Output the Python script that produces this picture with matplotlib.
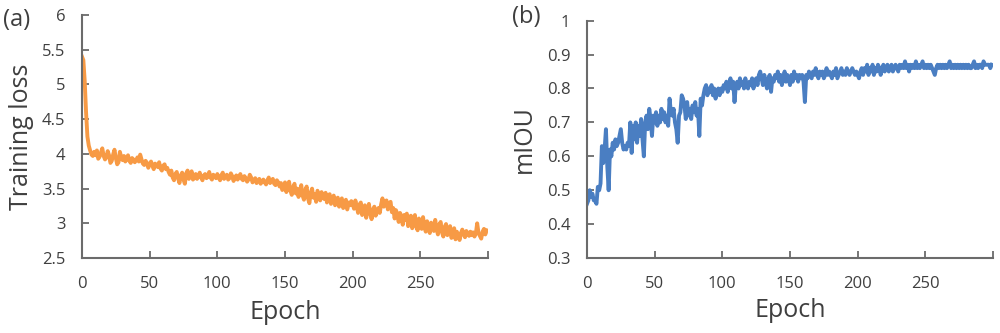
import matplotlib
matplotlib.use("Agg")
import matplotlib.pyplot as plt

plt.rcParams['font.family'] = ['Open Sans', 'DejaVu Sans']

# ---------------- data ----------------
training_loss = [
    5.40, 5.35, 5.05, 4.60, 4.25, 4.12, 4.05, 3.99, 3.97, 4.03, 3.98, 4.05, 3.93, 3.96, 4.02, 4.08, 3.97, 3.92, 3.95, 4.04,
    3.98, 3.87, 3.90, 3.99, 4.06, 3.94, 3.85, 3.88, 4.03, 3.95, 3.91, 3.97, 3.89, 3.93, 3.98, 3.90, 3.87, 3.94, 3.92, 3.88,
    3.91, 3.95, 3.89, 3.99, 3.92, 3.86, 3.84, 3.90, 3.87, 3.80, 3.85, 3.89, 3.83, 3.78, 3.86, 3.84, 3.81, 3.88, 3.79, 3.76,
    3.83, 3.85, 3.78, 3.80, 3.74, 3.70, 3.76, 3.66, 3.62, 3.71, 3.74, 3.65, 3.58, 3.69, 3.73, 3.63, 3.57, 3.72, 3.76, 3.64,
    3.68, 3.75, 3.63, 3.66, 3.71, 3.64, 3.68, 3.73, 3.66, 3.62, 3.69, 3.71, 3.65, 3.67, 3.74, 3.66, 3.63, 3.70, 3.68, 3.65,
    3.71, 3.66, 3.62, 3.69, 3.73, 3.64, 3.67, 3.70, 3.63, 3.65, 3.72, 3.68, 3.61, 3.66, 3.69, 3.63, 3.67, 3.71, 3.64, 3.62,
    3.68, 3.65, 3.60, 3.63, 3.70, 3.66, 3.59, 3.62, 3.65, 3.58, 3.61, 3.64, 3.57, 3.60, 3.63, 3.59, 3.56, 3.62, 3.66, 3.58,
    3.61, 3.64, 3.57, 3.55, 3.62, 3.59, 3.53, 3.58, 3.48, 3.52, 3.59, 3.45, 3.54, 3.60, 3.47, 3.41, 3.52, 3.57, 3.43, 3.50,
    3.38, 3.46, 3.55, 3.40, 3.34, 3.48, 3.53, 3.36, 3.29, 3.44, 3.50, 3.37, 3.42, 3.31, 3.47, 3.40, 3.33, 3.45, 3.39, 3.35,
    3.44, 3.30, 3.38, 3.42, 3.28, 3.35, 3.40, 3.26, 3.33, 3.37, 3.24, 3.31, 3.36, 3.22, 3.29, 3.34, 3.20, 3.30, 3.26, 3.32,
    3.28, 3.21, 3.33, 3.25, 3.15, 3.27, 3.30, 3.12, 3.22, 3.26, 3.08, 3.18, 3.28, 3.14, 3.06, 3.20, 3.24, 3.11, 3.17, 3.22,
    3.15, 3.27, 3.36, 3.24, 3.30, 3.33, 3.20, 3.28, 3.31, 3.16, 3.22, 3.07, 3.19, 3.13, 3.02, 3.15, 3.10, 2.98, 3.12, 3.05,
    3.14, 2.96, 3.08, 3.11, 2.93, 3.04, 3.12, 2.95, 2.90, 3.07, 3.00, 2.92, 3.09, 2.96, 2.88, 3.03, 2.94, 2.86, 3.01, 2.97,
    2.89, 3.05, 2.92, 2.84, 2.98, 3.02, 2.87, 2.81, 2.95, 2.99, 2.83, 2.90, 2.96, 2.79, 2.85, 2.93, 2.77, 2.88, 2.82, 2.76,
    2.86, 2.91, 2.84, 2.80, 2.89, 2.85, 2.82, 2.88, 2.83, 2.87, 2.81, 2.85, 3.00, 2.86, 2.82, 2.78, 2.88, 2.92, 2.84, 2.90,
]

miou = [
    0.46, 0.47, 0.50, 0.48, 0.49, 0.47, 0.47, 0.46, 0.51, 0.50, 0.52, 0.63, 0.58, 0.62, 0.68, 0.57, 0.50, 0.62, 0.60, 0.64,
    0.62, 0.65, 0.63, 0.64, 0.66, 0.68, 0.64, 0.62, 0.63, 0.62, 0.64, 0.63, 0.70, 0.61, 0.69, 0.65, 0.70, 0.64, 0.69, 0.66,
    0.71, 0.65, 0.60, 0.70, 0.72, 0.68, 0.74, 0.71, 0.66, 0.72, 0.70, 0.73, 0.69, 0.72, 0.70, 0.74, 0.71, 0.73, 0.70, 0.72,
    0.69, 0.77, 0.73, 0.72, 0.74, 0.70, 0.68, 0.64, 0.72, 0.73, 0.78, 0.77, 0.75, 0.71, 0.76, 0.72, 0.74, 0.71, 0.75, 0.73,
    0.76, 0.72, 0.74, 0.66, 0.77, 0.75, 0.78, 0.80, 0.81, 0.78, 0.80, 0.79, 0.81, 0.78, 0.80, 0.77, 0.79, 0.80, 0.78, 0.80,
    0.79, 0.81, 0.80, 0.82, 0.79, 0.81, 0.83, 0.80, 0.82, 0.76, 0.81, 0.82, 0.80, 0.83, 0.81, 0.82, 0.80, 0.83, 0.81, 0.80,
    0.82, 0.81, 0.83, 0.80, 0.82, 0.83, 0.81, 0.84, 0.85, 0.83, 0.81, 0.84, 0.82, 0.80, 0.83, 0.84, 0.79, 0.83, 0.82, 0.84,
    0.83, 0.85, 0.82, 0.84, 0.81, 0.83, 0.85, 0.82, 0.84, 0.83, 0.81, 0.84, 0.82, 0.85, 0.83, 0.84, 0.82, 0.84, 0.83, 0.84,
    0.82, 0.76, 0.84, 0.83, 0.85, 0.84, 0.83, 0.85, 0.84, 0.86, 0.84, 0.83, 0.85, 0.84, 0.85, 0.83, 0.84, 0.86, 0.84, 0.85,
    0.84, 0.83, 0.85, 0.84, 0.86, 0.83, 0.84, 0.85, 0.86, 0.84, 0.85, 0.84, 0.86, 0.85, 0.84, 0.85, 0.86, 0.85, 0.84, 0.85,
    0.84, 0.83, 0.85, 0.86, 0.84, 0.86, 0.85, 0.87, 0.84, 0.86, 0.85, 0.87, 0.84, 0.86, 0.85, 0.87, 0.86, 0.84, 0.86, 0.87,
    0.85, 0.86, 0.87, 0.85, 0.86, 0.87, 0.85, 0.86, 0.87, 0.86, 0.85, 0.87, 0.86, 0.87, 0.86, 0.88, 0.86, 0.87, 0.85, 0.87,
    0.86, 0.87, 0.86, 0.88, 0.86, 0.87, 0.86, 0.87, 0.88, 0.86, 0.87, 0.86, 0.87, 0.86, 0.87, 0.86, 0.85, 0.84, 0.86, 0.87,
    0.86, 0.87, 0.86, 0.87, 0.86, 0.87, 0.86, 0.87, 0.88, 0.86, 0.87, 0.86, 0.87, 0.86, 0.87, 0.86, 0.87, 0.86, 0.87, 0.86,
    0.87, 0.86, 0.87, 0.86, 0.86, 0.87, 0.88, 0.86, 0.87, 0.86, 0.87, 0.87, 0.86, 0.88, 0.87, 0.87, 0.87, 0.87, 0.86, 0.87,
]

epochs = list(range(len(training_loss)))

x_ticks = [0, 50, 100, 150, 200, 250, 300]
x_tick_labels = ["0", "50", "100", "150", "200", "250", ""]
loss_ticks = [2.5, 3, 3.5, 4, 4.5, 5, 5.5, 6]
loss_tick_labels = ["2.5", "3", "3.5", "4", "4.5", "5", "5.5", "6"]
miou_ticks = [0.3, 0.4, 0.5, 0.6, 0.7, 0.8, 0.9, 1.0]
miou_tick_labels = ["0.3", "0.4", "0.5", "0.6", "0.7", "0.8", "0.9", "1"]

# ---------------- figure ----------------
fig = plt.figure(figsize=(10, 3.33), dpi=100)
ax1 = fig.add_axes([0.082, 0.225, 0.406, 0.73])
ax2 = fig.add_axes([0.587, 0.225, 0.406, 0.713])

axis_col = '#6b6b6b'
text_col = '#3f3f3f'


def style(ax, yticks, ylabels, ylim):
    ax.set_xlim(0, 300)
    ax.set_ylim(*ylim)
    ax.set_xticks(x_ticks)
    ax.set_xticklabels(x_tick_labels)
    ax.set_yticks(yticks)
    ax.set_yticklabels(ylabels)
    for s in ['top', 'right']:
        ax.spines[s].set_visible(False)
    for s in ['left', 'bottom']:
        ax.spines[s].set_color(axis_col)
        ax.spines[s].set_linewidth(1.5)
    ax.tick_params(direction='in', length=5, width=1.3, color=axis_col,
                   labelsize=12, labelcolor=text_col)
    ax.tick_params(axis='x', pad=13)
    ax.tick_params(axis='y', pad=12)


ax1.plot(epochs, training_loss, color='#F79A45', lw=2.8, solid_joinstyle='round')
style(ax1, loss_ticks, loss_tick_labels, (2.5, 6))
ax1.set_xlabel('Epoch', fontsize=18, color=text_col)
ax1.set_ylabel('Training loss', fontsize=18, color=text_col)
ax1.xaxis.set_label_coords(0.5, -0.222)
ax1.xaxis.label.set_va('center')
ax1.yaxis.set_label_coords(-0.148, 0.5)
ax1.yaxis.label.set_va('center')

ax2.plot(epochs, miou, color='#4A7EC2', lw=2.8, solid_joinstyle='round')
style(ax2, miou_ticks, miou_tick_labels, (0.3, 1.0))
ax2.set_xlabel('Epoch', fontsize=18, color=text_col)
ax2.set_ylabel('mIOU', fontsize=18, color=text_col)
ax2.xaxis.set_label_coords(0.5, -0.222)
ax2.xaxis.label.set_va('center')
ax2.yaxis.set_label_coords(-0.155, 0.5)
ax2.yaxis.label.set_va('center')

fig.text(0.003, 0.94, '(a)', fontsize=17, color=text_col, va='center', ha='left')
fig.text(0.512, 0.948, '(b)', fontsize=17, color=text_col, va='center', ha='left')

fig.savefig('out.png', dpi=100, facecolor='white')
